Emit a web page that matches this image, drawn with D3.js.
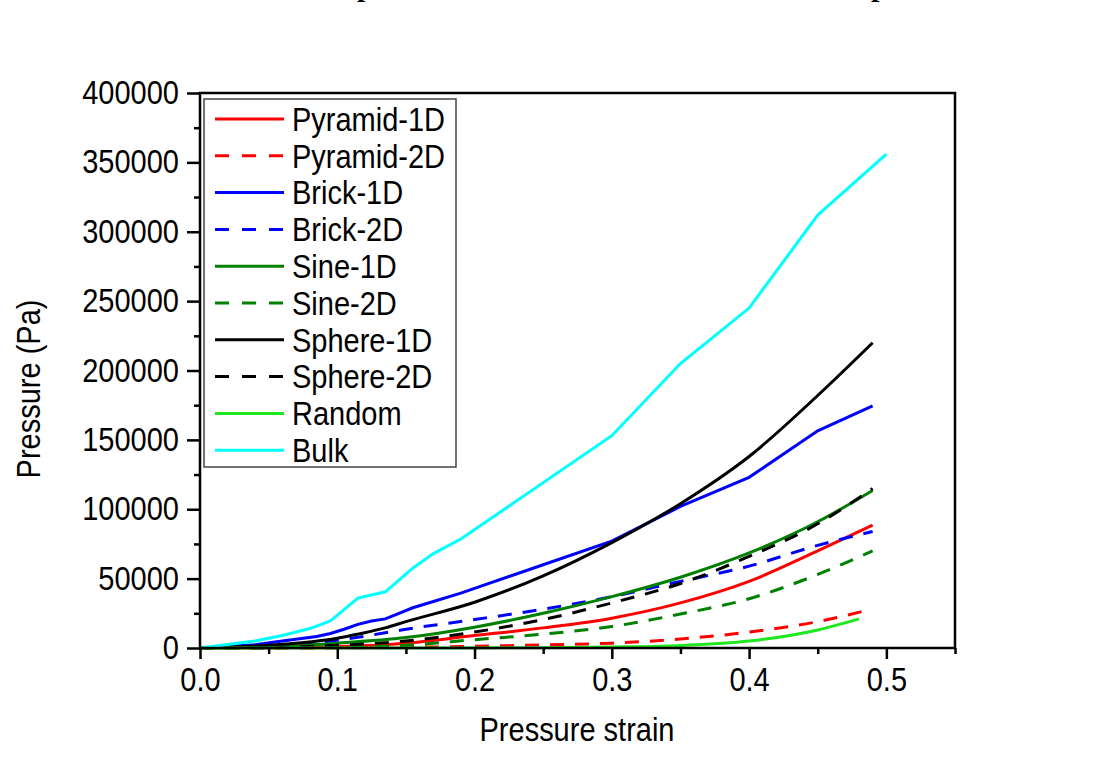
<!DOCTYPE html>
<html>
<head>
<meta charset="utf-8">
<script src="https://cdn.jsdelivr.net/npm/d3@7"></script>
<style>
  body { margin: 0; background: #fff; }
  svg { display: block; }
  text { font-family: "Liberation Sans", Arial, sans-serif; fill: #000; }
</style>
</head>
<body>
<script>
// strain values (x) and pressure in Pa (y)
var bulkX = [0, 0.02, 0.04, 0.06, 0.08, 0.095, 0.115, 0.135, 0.155, 0.17, 0.19, 0.3, 0.35, 0.4, 0.45, 0.5];
var bulkY = [0, 2500, 5000, 9000, 14000, 19500, 36000, 40500, 57500, 68000, 78500, 153000, 205000, 245000, 312000, 356000];

var brick1X = [0, 0.02, 0.04, 0.06, 0.085, 0.095, 0.105, 0.115, 0.125, 0.135, 0.145, 0.155, 0.17, 0.19, 0.2, 0.25, 0.3, 0.35, 0.4, 0.45, 0.49];
var brick1Y = [0, 1000, 2400, 5000, 8300, 10500, 13500, 17000, 19500, 21000, 25000, 29000, 33500, 39500, 43000, 60000, 77000, 102000, 123000, 156500, 174500];

var sphere1X = [0, 0.05, 0.1, 0.115, 0.135, 0.15, 0.2, 0.25, 0.3, 0.35, 0.4, 0.45, 0.49];
var sphere1Y = [0, 2000, 7000, 10000, 14500, 19000, 33000, 52000, 76000, 104000, 138000, 182000, 220000];

var brick2X = [0, 0.05, 0.1, 0.12, 0.15, 0.2, 0.25, 0.3, 0.35, 0.4, 0.45, 0.49];
var brick2Y = [0, 1500, 5500, 8500, 13500, 20500, 28000, 37000, 48000, 59000, 74000, 84000];

var sine1X = [0, 0.05, 0.1, 0.15, 0.2, 0.25, 0.3, 0.35, 0.4, 0.45, 0.49];
var sine1Y = [0, 800, 3500, 7500, 15000, 25000, 37000, 51000, 68500, 91000, 113500];

var sphere2X = [0, 0.05, 0.1, 0.15, 0.2, 0.25, 0.3, 0.35, 0.4, 0.45, 0.49];
var sphere2Y = [0, 300, 2000, 5000, 11500, 20500, 32500, 46500, 66000, 89500, 115000];

var pyr1X = [0, 0.05, 0.1, 0.15, 0.2, 0.25, 0.3, 0.35, 0.4, 0.45, 0.49];
var pyr1Y = [0, 200, 1000, 3500, 9000, 14500, 21500, 32500, 48000, 70000, 88500];

var sine2X = [0, 0.05, 0.1, 0.15, 0.2, 0.25, 0.3, 0.35, 0.4, 0.45, 0.49];
var sine2Y = [0, 100, 500, 2000, 6000, 10000, 15500, 24500, 35500, 53000, 70000];

var pyr2X = [0, 0.1, 0.15, 0.2, 0.25, 0.3, 0.35, 0.4, 0.45, 0.487];
var pyr2Y = [0, 100, 500, 1200, 2200, 3500, 6500, 11500, 19000, 27500];

var randX = [0, 0.2, 0.25, 0.3, 0.35, 0.4, 0.45, 0.48];
var randY = [0, 0, 200, 700, 1800, 5000, 13000, 21000];

var names = ["Pyramid-1D", "Pyramid-2D", "Brick-1D", "Brick-2D", "Sine-1D", "Sine-2D", "Sphere-1D", "Sphere-2D", "Random", "Bulk"];
var colors = ["#ff0000", "#ff0000", "#0000ff", "#0000ff", "#008000", "#008000", "#000000", "#000000", "#1ee81e", "#00ffff"];
var dashed = [false, true, false, true, false, true, false, true, false, false];
var xsList = [pyr1X, pyr2X, brick1X, brick2X, sine1X, sine2X, sphere1X, sphere2X, randX, bulkX];
var ysList = [pyr1Y, pyr2Y, brick1Y, brick2Y, sine1Y, sine2Y, sphere1Y, sphere2Y, randY, bulkY];
var smooth = [true, true, false, true, true, true, true, true, true, false];

var xMajor = [0, 0.1, 0.2, 0.3, 0.4, 0.5];
var yMajor = [0, 50000, 100000, 150000, 200000, 250000, 300000, 350000, 400000];

var width = 1096, height = 769;
var margin = { top: 93, right: 141, bottom: 121, left: 200 };
var w = width - margin.left - margin.right,
  h = height - margin.top - margin.bottom;

var svg = d3.select("body").append("svg")
  .attr("width", width)
  .attr("height", height);

// remains of a caption cut off at the top of the image
svg.append("text")
  .attr("x", 357).attr("y", -4)
  .style("font-family", "'Liberation Serif', serif")
  .style("font-weight", "bold")
  .style("font-size", "30px")
  .text("p");
svg.append("text")
  .attr("x", 871).attr("y", -4)
  .style("font-family", "'Liberation Serif', serif")
  .style("font-weight", "bold")
  .style("font-size", "30px")
  .text("p");

var g = svg.append("g")
  .attr("transform", "translate(" + margin.left + "," + margin.top + ")");

var x = d3.scaleLinear().domain([0, 0.55]).range([0, w]);
var y = d3.scaleLinear().domain([0, 400000]).range([h, 0]);

// series
names.forEach(function(name, i) {
  var pts = xsList[i].map(function(v, j) { return [v, ysList[i][j]]; });
  var line = d3.line()
    .x(function(d) { return x(d[0]); })
    .y(function(d) { return y(d[1]); })
    .curve(smooth[i] ? d3.curveMonotoneX : d3.curveLinear);
  g.append("path")
    .datum(pts)
    .attr("fill", "none")
    .attr("stroke", colors[i])
    .attr("stroke-width", 3)
    .attr("stroke-dasharray", dashed[i] ? "14,11" : null)
    .attr("d", line);
});

// axes
var xAxis = d3.axisBottom(x).tickValues(xMajor).tickSize(11).tickPadding(10)
  .tickFormat(d3.format(".1f"));
var xMinor = d3.axisBottom(x).tickValues(d3.range(0.05, 0.56, 0.1)).tickSize(6).tickFormat("");
var yAxis = d3.axisLeft(y).tickValues(yMajor).tickSize(13).tickPadding(8)
  .tickFormat(d3.format("d"));
var yMinor = d3.axisLeft(y).tickValues(d3.range(25000, 400000, 50000)).tickSize(6).tickFormat("");

function styleAxis(sel) {
  sel.select(".domain").remove();
  sel.selectAll("line").attr("stroke", "#000").attr("stroke-width", 2.5);
  sel.selectAll("text").style("font-size", "29px").style("font-family", "'Liberation Sans', Arial, sans-serif");
}

g.append("g").attr("transform", "translate(0," + h + ")").call(xAxis).call(styleAxis);
g.append("g").attr("transform", "translate(0," + h + ")").call(xMinor).call(styleAxis);
g.append("g").call(yAxis).call(styleAxis);
g.append("g").call(yMinor).call(styleAxis);

g.append("rect")
  .attr("x", 0).attr("y", 0)
  .attr("width", w).attr("height", h)
  .attr("fill", "none")
  .attr("stroke", "#000")
  .attr("stroke-width", 2.5);

// axis titles
svg.append("text")
  .attr("class", "tall")
  .attr("x", 577).attr("y", 740)
  .attr("text-anchor", "middle")
  .style("font-size", "29px")
  .text("Pressure strain");

svg.append("text")
  .attr("class", "tall")
  .attr("transform", "translate(39,389) rotate(-90)")
  .attr("text-anchor", "middle")
  .style("font-size", "29px")
  .text("Pressure (Pa)");

// legend
var legend = svg.append("g").attr("transform", "translate(204,99)");
legend.append("rect")
  .attr("width", 252).attr("height", 368)
  .attr("fill", "#fff")
  .attr("stroke", "#444")
  .attr("stroke-width", 1.5);

names.forEach(function(name, i) {
  var ly = 20 + i * 36.8;
  legend.append("line")
    .attr("x1", 11).attr("x2", 80)
    .attr("y1", ly).attr("y2", ly)
    .attr("stroke", colors[i])
    .attr("stroke-width", 3)
    .attr("stroke-dasharray", dashed[i] ? "14,13" : null);
  legend.append("text")
    .attr("class", "tall")
    .attr("x", 88).attr("y", ly)
    .attr("dy", "0.36em")
    .style("font-size", "29px")
    .text(name);
});

// the original lettering is a bit taller than Arial, stretch it around its centre
g.selectAll(".tick text").classed("tall", true);
svg.selectAll("text.tall").each(function() {
  var b = this.getBBox();
  var cy = b.y + b.height / 2;
  var t = this.getAttribute("transform") || "";
  this.setAttribute("transform", t + " translate(0," + cy + ") scale(1,1.13) translate(0," + (-cy) + ")");
});
</script>
</body>
</html>
